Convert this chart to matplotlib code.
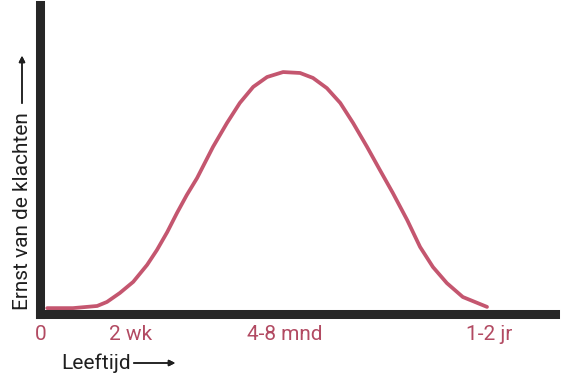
import numpy as np
import matplotlib
matplotlib.use("Agg")
import matplotlib.pyplot as plt

# --------------------
# Data (x and y on a 0-100 scale)
# --------------------
age_pos = [1.4, 6.4, 11.1, 13.0, 15.5, 18.1, 20.8, 22.7, 24.7, 26.6, 28.5,
           30.5, 33.6, 36.3, 38.8, 41.4, 44.1, 47.2, 50.5, 53.0, 55.7, 58.3,
           60.8, 63.5, 66.0, 68.5, 71.3, 73.8, 76.3, 79.0, 82.1, 86.8]
severity = [1.9, 1.9, 2.6, 3.9, 6.8, 10.4, 15.9, 20.7, 26.5, 32.7, 38.5,
            44.0, 54.1, 61.8, 68.3, 73.5, 76.7, 78.3, 78.0, 76.4, 73.1, 68.3,
            61.8, 54.1, 46.6, 39.2, 30.4, 21.7, 15.2, 10.0, 5.5, 2.3]

tick_pos = [0.2, 17.5, 47.6, 87.2]
tick_labels = ["0", "2 wk", "4-8 mnd", "1-2 jr"]

curve_color = "#c4566f"
label_color = "#b24a62"
axis_color = "#262626"
text_color = "#1f1f1f"

plt.rcParams["font.family"] = ["Roboto", "DejaVu Sans"]

fig = plt.figure(figsize=(5.63, 3.80), dpi=100)
ax = fig.add_axes([40 / 563, 66 / 380, 515 / 563, 309 / 380])

ax.plot(age_pos, severity, color=curve_color, linewidth=2.7,
        solid_capstyle="round", solid_joinstyle="round")

ax.set_xlim(0, 100)
ax.set_ylim(0, 100)

for side in ["top", "right"]:
    ax.spines[side].set_visible(False)
for side in ["left", "bottom"]:
    ax.spines[side].set_linewidth(6.5)
    ax.spines[side].set_color(axis_color)
    ax.spines[side].set_capstyle("projecting")

ax.set_yticks([])
ax.set_xticks(tick_pos)
ax.set_xticklabels(tick_labels, fontsize=15, color=label_color)
ax.tick_params(axis="x", length=0, pad=8)

# axis titles with hand-drawn style arrows
fig.text(61 / 563, 17 / 380, "Leeftijd", fontsize=15, color=text_color,
         ha="left", va="center")
fig.add_artist(plt.annotate("", xy=(178 / 563, 17 / 380), xytext=(131 / 563, 17 / 380),
                            xycoords="figure fraction", textcoords="figure fraction",
                            arrowprops=dict(arrowstyle="-|>", color=text_color, lw=1.1,
                                            mutation_scale=9)))

fig.text(22 / 563, 268 / 380, "Ernst van de klachten", fontsize=15, color=text_color,
         rotation=90, ha="center", va="top")
fig.add_artist(plt.annotate("", xy=(22 / 563, 327 / 380), xytext=(22 / 563, 274 / 380),
                            xycoords="figure fraction", textcoords="figure fraction",
                            arrowprops=dict(arrowstyle="-|>", color=text_color, lw=1.1,
                                            mutation_scale=9)))

fig.savefig("out.png", dpi=100)
